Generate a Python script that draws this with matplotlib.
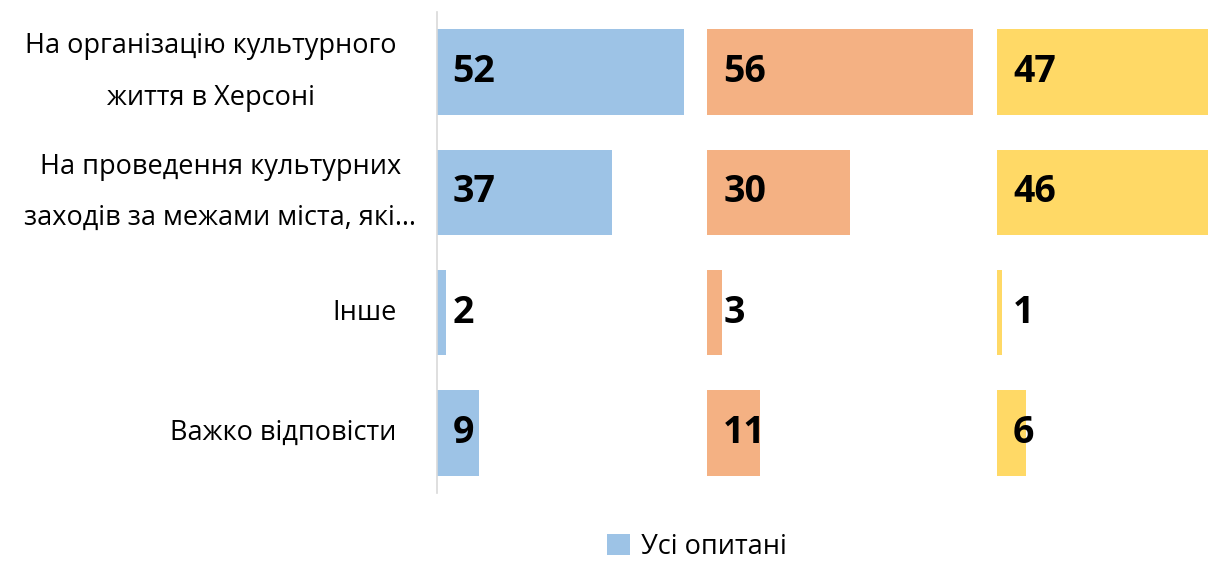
import matplotlib

matplotlib.use("Agg")

import matplotlib.pyplot as plt  # noqa: E402
from matplotlib.patches import Patch  # noqa: E402

plt.rcParams["font.family"] = ["Open Sans", "DejaVu Sans"]

categories = [
    "На організацію культурного\nжиття в Херсоні",
    "На проведення культурних\nзаходів за межами міста, які…",
    "Інше",
    "Важко відповісти",
]
series_names = ["Усі опитані", "Група 2", "Група 3"]
values_blue = [52, 37, 2, 9]
values_orange = [56, 30, 3, 11]
values_yellow = [47, 46, 1, 6]

colors = ["#9DC3E6", "#F4B183", "#FFD966"]
# each series sits in its own column on the shared x scale
panel_offsets = [0, 57, 118]
# distance (px) from the axis line to the right edge of each category label
label_pad = [40, 20, 40, 40]

W, H, DPI = 1208, 561, 100
fig = plt.figure(figsize=(W / DPI, H / DPI), dpi=DPI)
ax = fig.add_axes([436.5 / W, 1 - 493 / H, 1 - 436.5 / W, (493 - 12) / H])

y = range(len(categories))
for vals, color, off in zip([values_blue, values_orange, values_yellow], colors, panel_offsets):
    ax.barh(y, vals, left=off, height=0.71, color=color, edgecolor="none")
    for i, v in enumerate(vals):
        ax.annotate(
            str(v),
            xy=(off, i),
            xytext=(16, 0),
            textcoords="offset pixels",
            ha="left",
            va="center",
            fontsize=27,
            fontweight="bold",
            color="black",
        )

for i, label in enumerate(categories):
    ax.annotate(
        label,
        xy=(0, i),
        xycoords=("axes fraction", "data"),
        xytext=(-label_pad[i], 0),
        textcoords="offset pixels",
        ha="right",
        va="center",
        multialignment="center",
        linespacing=2.12,
        fontsize=19.5,
        color="black",
        annotation_clip=False,
    )

ax.set_xlim(0, (W - 436.5) / 4.75)
ax.set_ylim(len(categories) - 0.5, -0.5)
ax.set_xticks([])
ax.set_yticks([])
for side in ["top", "right", "bottom"]:
    ax.spines[side].set_visible(False)
ax.spines["left"].set_color("#D9D9D9")
ax.spines["left"].set_linewidth(1.2)

fig.legend(
    handles=[Patch(facecolor=colors[0], edgecolor="none", label=series_names[0])],
    loc="center",
    bbox_to_anchor=(697 / W, 1 - 547 / H),
    frameon=False,
    fontsize=19.5,
    handlelength=0.85,
    handleheight=0.85,
    handletextpad=0.4,
)

fig.savefig("out.png", dpi=DPI)
